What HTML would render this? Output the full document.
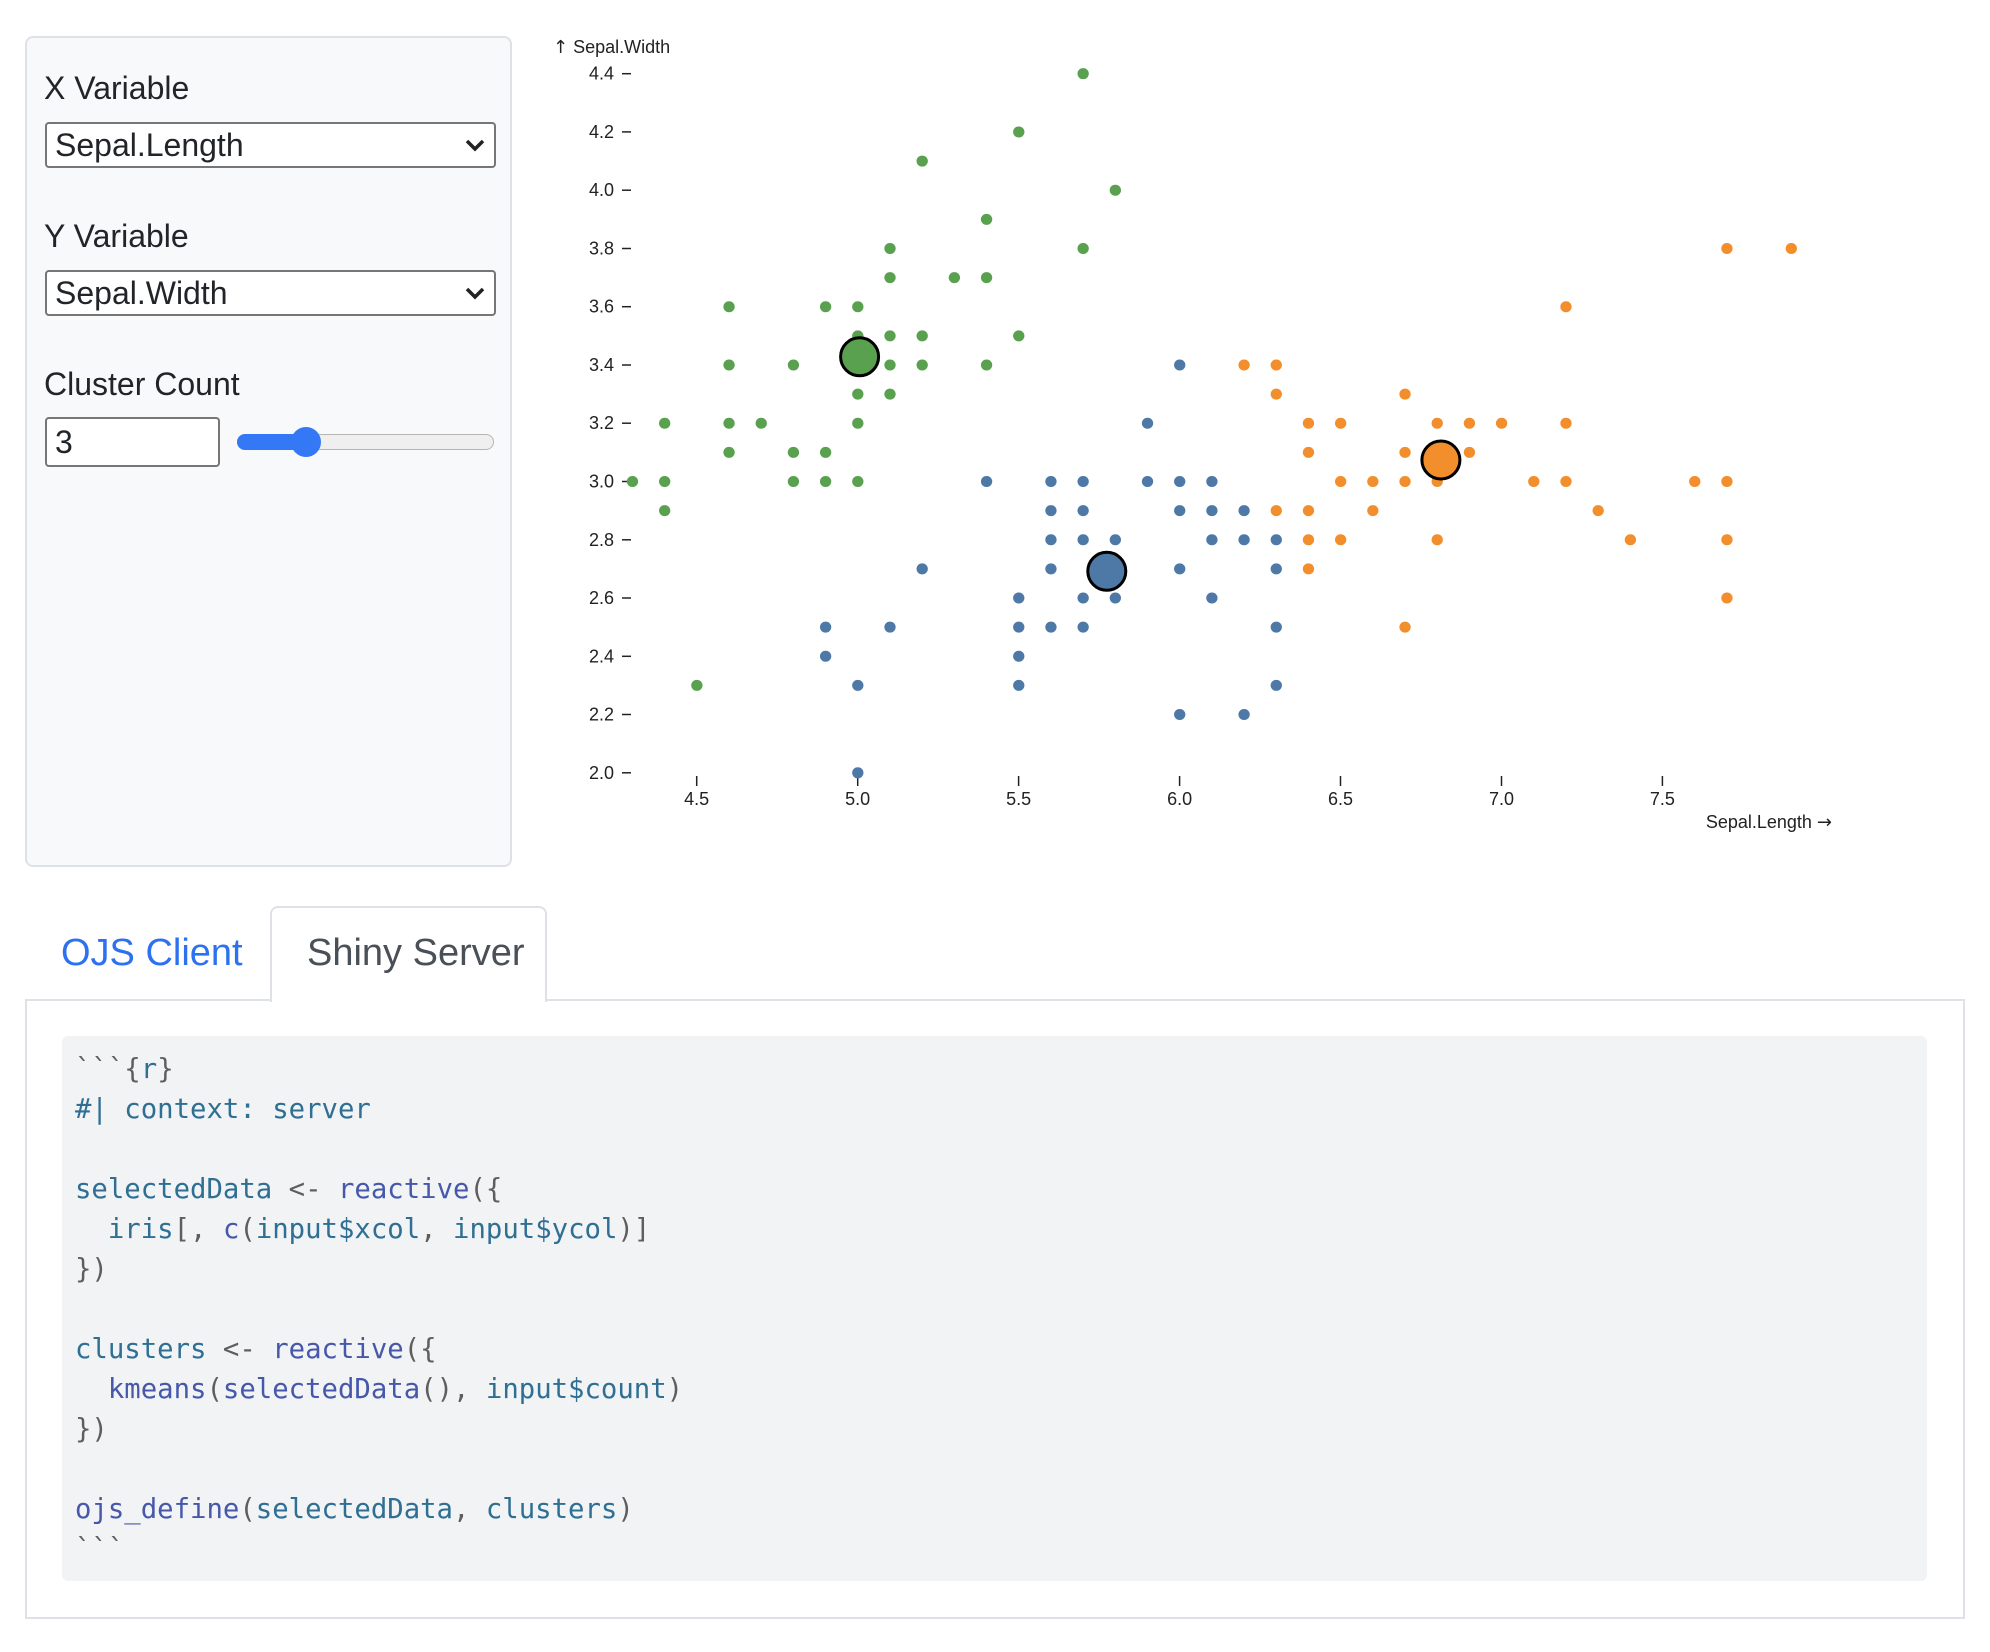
<!DOCTYPE html>
<html><head><meta charset="utf-8"><style>
body{margin:0;width:1990px;height:1652px;background:#fff;position:relative;overflow:hidden;font-family:"Liberation Sans",sans-serif;color:#212529}
.abs{position:absolute}
.panel{left:25px;top:36px;width:487px;height:831px;background:#f8f9fa;border:2px solid #dee2e6;border-radius:8px;box-sizing:border-box}
.lbl{font-size:32px;left:44px}
.sel{left:45px;width:451px;height:46px;border:2px solid #767676;border-radius:4px;background:#fff;box-sizing:border-box;font-size:32px;padding-left:8px;line-height:42px}
.sel svg{position:absolute;right:8px;top:13px}
.src{font-family:"DejaVu Sans Mono","Liberation Mono",monospace;font-size:27.3px;line-height:40px;color:#5e5e5e;white-space:pre}
.v{color:#2f6f93}.f{color:#4758ab}
</style></head><body>
<div class="abs panel"></div>
<div class="abs lbl" style="top:70px">X Variable</div>
<div class="abs sel" style="top:122px">Sepal.Length<svg width="22" height="16" viewBox="0 0 22 16"><path d="M3 4l8 8 8-8" fill="none" stroke="#222" stroke-width="3.5"/></svg></div>
<div class="abs lbl" style="top:218px">Y Variable</div>
<div class="abs sel" style="top:270px">Sepal.Width<svg width="22" height="16" viewBox="0 0 22 16"><path d="M3 4l8 8 8-8" fill="none" stroke="#222" stroke-width="3.5"/></svg></div>
<div class="abs lbl" style="top:366px">Cluster Count</div>
<div class="abs sel" style="top:417px;width:175px;height:50px;line-height:46px">3</div>
<div class="abs" style="left:237px;top:434px;width:257px;height:16px;border-radius:8px;background:#efefef;border:1px solid #b5b5b5;box-sizing:border-box"></div>
<div class="abs" style="left:237px;top:434px;width:75px;height:16px;border-radius:8px;background:#3478f6"></div>
<div class="abs" style="left:291px;top:427px;width:30px;height:30px;border-radius:50%;background:#3478f6"></div>

<svg class="abs" style="left:0;top:0" width="1990" height="880" font-family="Liberation Sans, sans-serif" font-size="18" fill="#222">
<text x="553" y="53"><tspan font-family="DejaVu Sans">↑</tspan> Sepal.Width</text>
<g stroke="#222" stroke-width="1.5">
<line x1="622" x2="631" y1="772.8" y2="772.8"/><line x1="622" x2="631" y1="714.5" y2="714.5"/><line x1="622" x2="631" y1="656.3" y2="656.3"/><line x1="622" x2="631" y1="598" y2="598"/><line x1="622" x2="631" y1="539.8" y2="539.8"/><line x1="622" x2="631" y1="481.5" y2="481.5"/><line x1="622" x2="631" y1="423.2" y2="423.2"/><line x1="622" x2="631" y1="365" y2="365"/><line x1="622" x2="631" y1="306.7" y2="306.7"/><line x1="622" x2="631" y1="248.5" y2="248.5"/><line x1="622" x2="631" y1="190.2" y2="190.2"/><line x1="622" x2="631" y1="131.9" y2="131.9"/><line x1="622" x2="631" y1="73.7" y2="73.7"/>
<line x1="696.7" x2="696.7" y1="776" y2="786"/><line x1="857.7" x2="857.7" y1="776" y2="786"/><line x1="1018.6" x2="1018.6" y1="776" y2="786"/><line x1="1179.6" x2="1179.6" y1="776" y2="786"/><line x1="1340.5" x2="1340.5" y1="776" y2="786"/><line x1="1501.5" x2="1501.5" y1="776" y2="786"/><line x1="1662.4" x2="1662.4" y1="776" y2="786"/>
</g>
<g text-anchor="end">
<text x="614" y="778.8">2.0</text><text x="614" y="720.5">2.2</text><text x="614" y="662.3">2.4</text><text x="614" y="604">2.6</text><text x="614" y="545.8">2.8</text><text x="614" y="487.5">3.0</text><text x="614" y="429.2">3.2</text><text x="614" y="371">3.4</text><text x="614" y="312.7">3.6</text><text x="614" y="254.5">3.8</text><text x="614" y="196.2">4.0</text><text x="614" y="137.9">4.2</text><text x="614" y="79.7">4.4</text>
<text x="1832" y="828">Sepal.Length <tspan font-family="DejaVu Sans">→</tspan></text>
</g>
<g text-anchor="middle">
<text x="696.7" y="805">4.5</text><text x="857.7" y="805">5.0</text><text x="1018.6" y="805">5.5</text><text x="1179.6" y="805">6.0</text><text x="1340.5" y="805">6.5</text><text x="1501.5" y="805">7.0</text><text x="1662.4" y="805">7.5</text>
</g>
<g transform="matrix(321.9 0 0 -291.3 -751.85 1355.4)" fill="none" stroke-linecap="round">
<path stroke="#59a14f" stroke-width="11" vector-effect="non-scaling-stroke" d="M5.1 3.5h0.001M4.9 3.0h0.001M4.7 3.2h0.001M4.6 3.1h0.001M5.0 3.6h0.001M5.4 3.9h0.001M4.6 3.4h0.001M5.0 3.4h0.001M4.4 2.9h0.001M4.9 3.1h0.001M5.4 3.7h0.001M4.8 3.4h0.001M4.8 3.0h0.001M4.3 3.0h0.001M5.8 4.0h0.001M5.7 4.4h0.001M5.7 3.8h0.001M5.1 3.8h0.001M5.4 3.4h0.001M5.1 3.7h0.001M4.6 3.6h0.001M5.1 3.3h0.001M5.0 3.0h0.001M5.2 3.5h0.001M5.2 3.4h0.001M4.8 3.1h0.001M5.2 4.1h0.001M5.5 4.2h0.001M5.0 3.2h0.001M5.5 3.5h0.001M4.9 3.6h0.001M4.4 3.0h0.001M5.1 3.4h0.001M5.0 3.5h0.001M4.5 2.3h0.001M4.4 3.2h0.001M5.3 3.7h0.001M5.0 3.3h0.001M4.6 3.2h0.001"/>
<path stroke="#4e79a7" stroke-width="11" vector-effect="non-scaling-stroke" d="M5.5 2.3h0.001M5.7 2.8h0.001M4.9 2.4h0.001M5.2 2.7h0.001M5.0 2.0h0.001M5.9 3.0h0.001M6.0 2.2h0.001M6.1 2.9h0.001M5.6 2.9h0.001M5.6 3.0h0.001M5.8 2.7h0.001M6.2 2.2h0.001M5.6 2.5h0.001M5.9 3.2h0.001M6.1 2.8h0.001M6.3 2.5h0.001M6.0 2.9h0.001M5.7 2.6h0.001M5.5 2.4h0.001M6.0 2.7h0.001M5.4 3.0h0.001M6.0 3.4h0.001M6.3 2.3h0.001M5.5 2.5h0.001M5.5 2.6h0.001M6.1 3.0h0.001M5.8 2.6h0.001M5.0 2.3h0.001M5.6 2.7h0.001M5.7 3.0h0.001M5.7 2.9h0.001M6.2 2.9h0.001M5.1 2.5h0.001M4.9 2.5h0.001M5.7 2.5h0.001M5.8 2.8h0.001M5.6 2.8h0.001M6.3 2.7h0.001M6.2 2.8h0.001M6.3 2.8h0.001M6.1 2.6h0.001M6.0 3.0h0.001"/>
<path stroke="#f28e2c" stroke-width="11" vector-effect="non-scaling-stroke" d="M7.0 3.2h0.001M6.4 3.2h0.001M6.9 3.1h0.001M6.5 2.8h0.001M6.3 3.3h0.001M6.6 2.9h0.001M6.7 3.1h0.001M6.4 2.9h0.001M6.6 3.0h0.001M6.8 2.8h0.001M6.7 3.0h0.001M7.1 3.0h0.001M6.3 2.9h0.001M6.5 3.0h0.001M7.6 3.0h0.001M7.3 2.9h0.001M6.7 2.5h0.001M7.2 3.6h0.001M6.5 3.2h0.001M6.4 2.7h0.001M6.8 3.0h0.001M7.7 3.8h0.001M7.7 2.6h0.001M6.9 3.2h0.001M7.7 2.8h0.001M6.7 3.3h0.001M7.2 3.2h0.001M6.4 2.8h0.001M7.2 3.0h0.001M7.4 2.8h0.001M7.9 3.8h0.001M7.7 3.0h0.001M6.3 3.4h0.001M6.4 3.1h0.001M6.8 3.2h0.001M6.2 3.4h0.001"/>
</g>
<circle cx="859.6" cy="356.8" r="19" fill="#59a14f" stroke="#000" stroke-width="3"/>
<circle cx="1106.8" cy="571.2" r="19" fill="#4e79a7" stroke="#000" stroke-width="3"/>
<circle cx="1440.9" cy="460" r="19" fill="#f28e2c" stroke="#000" stroke-width="3"/>
</svg>

<div class="abs" style="left:25px;top:999px;width:1940px;height:620px;border:2px solid #dee2e6;box-sizing:border-box"></div>
<div class="abs" style="left:270px;top:906px;width:277px;height:96px;border:2px solid #dee2e6;border-bottom:none;border-radius:8px 8px 0 0;background:#fff;box-sizing:border-box"></div>
<div class="abs" style="left:61px;top:932px;font-size:38px;color:#2c72f0">OJS Client</div>
<div class="abs" style="left:307px;top:932px;font-size:38px;color:#495057">Shiny Server</div>
<div class="abs" style="left:62px;top:1036px;width:1865px;height:545px;background:#f1f3f5;border-radius:6px"></div>
<div class="abs src" style="left:75px;top:1050px;z-index:5">&#96;&#96;&#96;{<span class="v">r</span>}<br><span class="v">#| context: server</span><br><br><span class="v">selectedData</span> &lt;- <span class="f">reactive</span>({<br>  <span class="v">iris</span>[, <span class="f">c</span>(<span class="v">input$xcol</span>, <span class="v">input$ycol</span>)]<br>})<br><br><span class="v">clusters</span> &lt;- <span class="f">reactive</span>({<br>  <span class="f">kmeans</span>(<span class="f">selectedData</span>(), <span class="v">input$count</span>)<br>})<br><br><span class="f">ojs_define</span>(<span class="v">selectedData</span>, <span class="v">clusters</span>)<br>&#96;&#96;&#96;</div>
</body></html>
